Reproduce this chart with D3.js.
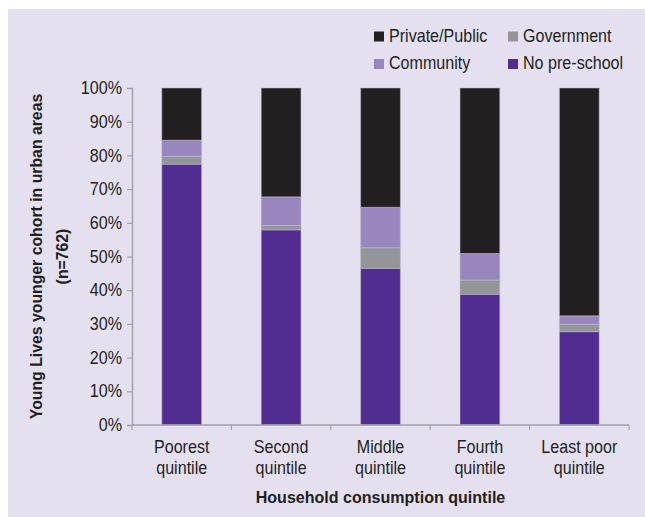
<!DOCTYPE html>
<html>
<head>
<meta charset="utf-8">
<script src="https://cdn.jsdelivr.net/npm/d3@7"></script>
<style>
  body { margin: 0; background: #fff; }
  text { font-family: "Liberation Sans", Arial, sans-serif; fill: #231f20; }
</style>
</head>
<body>
<div id="chart"></div>
<script>
(function () {

    var categories = [["Poorest", "quintile"], ["Second", "quintile"], ["Middle", "quintile"], ["Fourth", "quintile"], ["Least poor", "quintile"]],
        series = ["No pre-school", "Government", "Community", "Private/Public"],
        noPreschool = [77.4, 57.9, 46.5, 38.8, 27.7],
        government  = [2.3, 1.3, 6.1, 4.2, 2.2],
        community   = [4.8, 8.5, 12.0, 7.9, 2.5],
        privatePub  = [15.5, 32.3, 35.4, 49.1, 67.6],
        yTicks = [0, 10, 20, 30, 40, 50, 60, 70, 80, 90, 100],
        legendOrder = ["Private/Public", "Government", "Community", "No pre-school"];

    var width = 645, height = 517,
        sx = 0.92,   // squeeze to mimic the condensed face
        color = d3.scaleOrdinal()
            .domain(series)
            .range(["#512d91", "#939598", "#9a86be", "#231f20"]);

    var svg = d3.select("#chart").append("svg")
        .attr("width", width).attr("height", height);

    svg.append("rect")
        .attr("x", 8).attr("y", 9)
        .attr("width", width - 8).attr("height", height - 9)
        .attr("fill", "#e4e0f0");

    var rows = categories.map(function (c, i) {
        return {
            key: i,
            "No pre-school": noPreschool[i],
            "Government": government[i],
            "Community": community[i],
            "Private/Public": privatePub[i]
        };
    });

    var x = d3.scaleBand()
        .domain(d3.range(categories.length))
        .range([132, 629])
        .paddingInner(0.6)
        .paddingOuter(0.3);

    var y = d3.scaleLinear().domain([0, 100]).range([425, 88]);

    var stack = d3.stack().keys(series)(rows);

    svg.append("g").selectAll("g")
        .data(stack)
        .enter().append("g")
        .attr("fill", function (d) { return color(d.key); })
        .selectAll("rect")
        .data(function (d) { return d; })
        .enter().append("rect")
        .attr("x", function (d) { return x(d.data.key); })
        .attr("width", x.bandwidth())
        .attr("y", function (d) { return y(d[1]); })
        .attr("height", function (d) { return y(d[0]) - y(d[1]); })
        .attr("stroke", "rgba(190,185,205,0.55)")
        .attr("stroke-width", 1);

    // y axis
    var yAxis = svg.append("g")
        .attr("transform", "translate(132,0)")
        .call(d3.axisLeft(y).tickValues(yTicks).tickSize(5).tickPadding(5)
            .tickFormat(function (d) { return d + "%"; }));
    yAxis.select(".domain").attr("stroke", "#a3a1a8").attr("stroke-width", 1.5);
    yAxis.selectAll(".tick line").attr("stroke", "#a3a1a8").attr("stroke-width", 1.2);
    yAxis.selectAll(".tick text")
        .attr("font-size", "17.5px")
        .attr("x", -10 / sx)
        .attr("transform", "scale(" + sx + ",1)")
        .attr("font-family", null).attr("fill", "#231f20");

    // x axis with ticks at band edges
    var xAxis = svg.append("g").attr("transform", "translate(0,425)");
    xAxis.append("line")
        .attr("x1", 132).attr("x2", 629)
        .attr("stroke", "#a3a1a8").attr("stroke-width", 1.5);
    var edges = d3.range(categories.length + 1).map(function (i) {
        return 132 + i * x.step();
    });
    xAxis.selectAll(".edge")
        .data(edges)
        .enter().append("line")
        .attr("class", "edge")
        .attr("x1", function (d) { return d; })
        .attr("x2", function (d) { return d; })
        .attr("y1", 0).attr("y2", 5)
        .attr("stroke", "#a3a1a8").attr("stroke-width", 1.2);

    var xl = xAxis.selectAll(".cat")
        .data(categories)
        .enter().append("text")
        .attr("class", "cat")
        .attr("text-anchor", "middle")
        .attr("font-size", "17.5px")
        .attr("transform", function (d, i) {
            return "translate(" + (x(i) + x.bandwidth() / 2) + ",0) scale(" + sx + ",1)";
        });
    xl.selectAll("tspan")
        .data(function (d) { return d; })
        .enter().append("tspan")
        .attr("x", 0)
        .attr("y", function (d, i) { return 28 + i * 21.5; })
        .text(function (d) { return d; });

    svg.append("text")
        .attr("transform", "translate(380.5,503) scale(0.945,1)")
        .attr("text-anchor", "middle")
        .attr("font-size", "17px")
        .attr("font-weight", "bold")
        .text("Household consumption quintile");

    // y label
    var yl = svg.append("text")
        .attr("transform", "translate(0,256.5) rotate(-90) scale(0.93,1)")
        .attr("text-anchor", "middle")
        .attr("font-size", "17px")
        .attr("font-weight", "bold");
    yl.append("tspan").attr("x", 0).attr("y", 42).text("Young Lives younger cohort in urban areas");
    yl.append("tspan").attr("x", 0).attr("y", 68).text("(n=762)");

    // legend
    var legend = svg.append("g").selectAll("g")
        .data(legendOrder)
        .enter().append("g")
        .attr("transform", function (d, i) {
            return "translate(" + (374 + (i % 2) * 134) + "," + (31.5 + Math.floor(i / 2) * 27.5) + ")";
        });
    legend.append("rect")
        .attr("width", 10).attr("height", 10)
        .attr("fill", function (d) { return color(d); });
    legend.append("text")
        .attr("transform", "translate(15,10) scale(" + sx + ",1)")
        .attr("font-size", "17.5px")
        .text(function (d) { return d; });

}());
</script>
</body>
</html>
